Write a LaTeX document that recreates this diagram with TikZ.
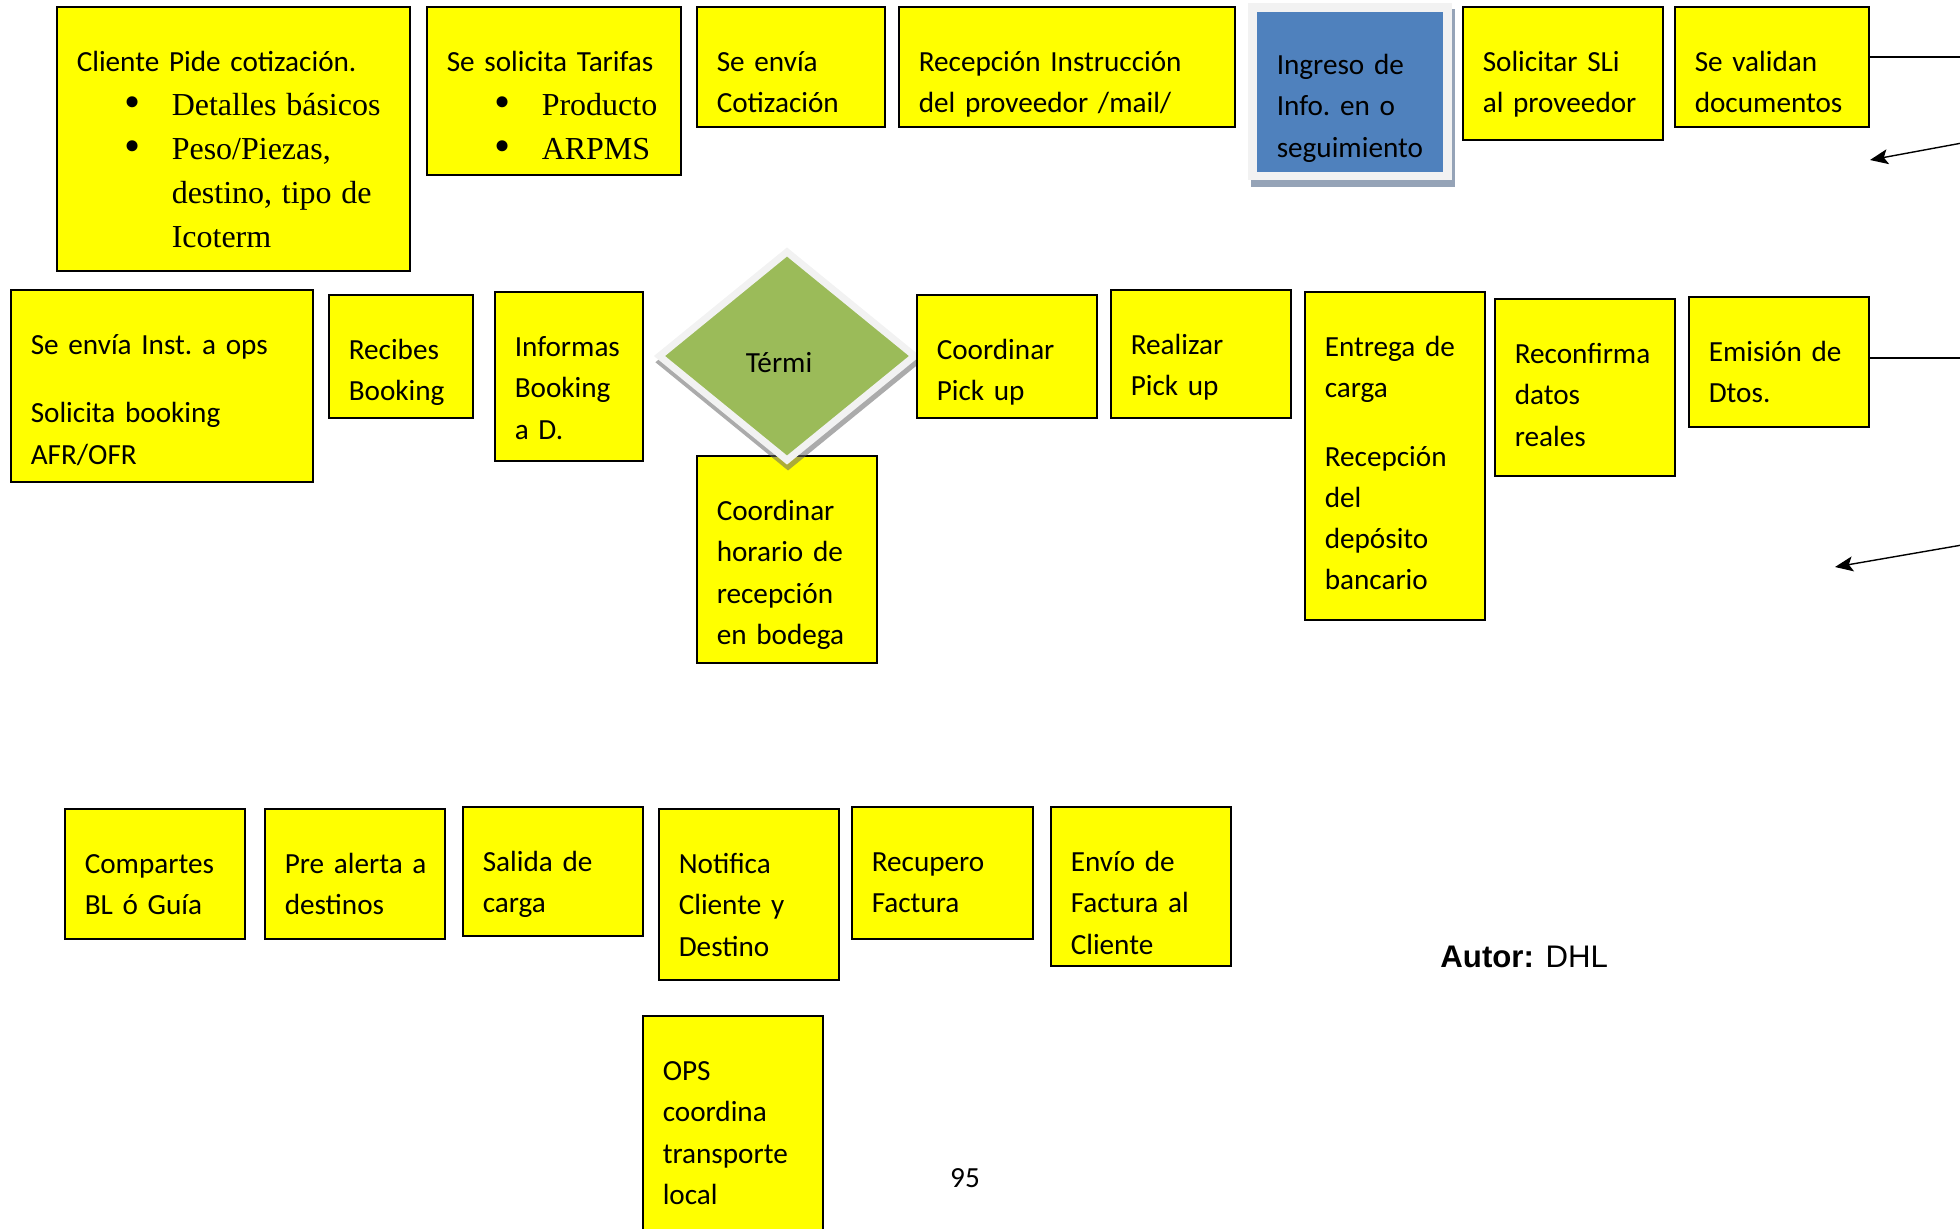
\documentclass[tikz,border=0pt]{standalone}
\usepackage{fontspec}
\setmainfont{Carlito}[WordSpace=0.75]
\newfontfamily\bulletfont{Liberation Serif}
\newfontfamily\arialfont{Liberation Sans}
\usetikzlibrary{arrows.meta,positioning,calc,backgrounds,shadows,shapes.geometric}
\definecolor{cardyellow}{HTML}{FFFF00}
\definecolor{infoblue}{HTML}{4F81BD}
\definecolor{termigreen}{HTML}{9BBB59}
\definecolor{framegray}{HTML}{F2F2F2}
\definecolor{shadowblue}{HTML}{95A3B7}
\newcommand{\bitem}[1]{{\bulletfont\fontsize{16pt}{22pt}\selectfont\makebox[47.5pt][l]{\hspace*{24pt}\raisebox{-0.8pt}{\fontsize{23pt}{22pt}\selectfont\textbullet}}#1}}
\newcommand{\bcont}[1]{{\bulletfont\fontsize{16pt}{22pt}\selectfont\hspace*{47.5pt}#1}}
\tikzset{
  card/.style={
    rectangle,
    draw=black,
    fill=cardyellow,
    line width=0.75pt,
    anchor=north west,
    align=left,
    inner xsep=10pt,
    inner ysep=0pt,
    text height=32.5pt,
    font=\fontsize{14.6pt}{20.6pt}\selectfont\frenchspacing
  },
  listcard/.style={
    card,
    font=\fontsize{14.6pt}{22pt}\selectfont\frenchspacing
  },
  infocard/.style={
    card,
    draw=none,
    fill=infoblue,
    text height=31.5pt
  },
  decision/.style={
    diamond,
    fill=termigreen,
    draw=framegray,
    line width=3.5pt,
    minimum width=129pt,
    minimum height=105.5pt,
    inner sep=0pt,
    drop shadow={shadow xshift=0.5pt, shadow yshift=-3pt, shadow scale=1.04, fill=black!60, opacity=0.55},
    font=\fontsize{14.6pt}{17pt}\selectfont
  },
  link/.style={line width=0.7pt, draw=black},
  pointer/.style={-{Stealth[length=9pt,width=7.5pt,inset=2pt]}, line width=0.7pt, draw=black}
}
\begin{document}
\begin{tikzpicture}[x=0.5pt,y=-0.5pt]
  \useasboundingbox (0,0) rectangle (1960,1228);
  \clip (0,0) rectangle (1960,1228);

  % top row
  \node[listcard, text width=156.5pt, text depth=99.5pt] (cliente) at (56,6)
    {Cliente Pide cotización.\\
     \bitem{Detalles básicos}\\
     \bitem{Peso/Piezas,}\\
     \bcont{destino, tipo de}\\
     \bcont{Icoterm}};
  \node[listcard, text width=107pt, text depth=51.5pt] (tarifas) at (426,6)
    {Se solicita Tarifas\\
     \bitem{Producto}\\
     \bitem{ARPMS}};
  \node[card, text width=74pt, text depth=27.5pt] (cotiz) at (696,6) {Se envía\\Cotización};
  \node[card, text width=148pt, text depth=27.5pt] (recep) at (898,6) {Recepción Instrucción\\del proveedor /mail/};
  \node[infocard, text width=73pt, text depth=48.5pt] (ingreso) at (1256,11) {Ingreso de\\Info. en o\\seguimiento};
  \node[card, text width=80pt, text depth=34pt] (sli) at (1462,6) {Solicitar SLi\\al proveedor};
  \node[card, text width=77pt, text depth=27.5pt] (validan) at (1674,6) {Se validan\\documentos};

  \begin{scope}[on background layer]
    \fill[shadowblue] ([shift={(-5,-2)}]ingreso.north west) rectangle ([shift={(11,14)}]ingreso.south east);
    \fill[framegray] ([shift={(-8,-8)}]ingreso.north west) rectangle ([shift={(8,7)}]ingreso.south east);
  \end{scope}

  % middle row
  \node[card, text width=131pt, text depth=63.5pt] (inst) at (10,289) {Se envía Inst. a ops\\[13.5pt]Solicita booking\\AFR/OFR};
  \node[card, text width=52pt, text depth=29pt] (recibes) at (328,294) {Recibes\\Booking};
  \node[card, text width=54pt, text depth=52pt] (informas) at (494,291) {Informas\\Booking\\a D.};
  \node[card, text width=70pt, text depth=71pt] (horario) at (696,455) {Coordinar\\horario de\\recepción\\en bodega};
  \node[decision] (termi) at (787,356) {\raisebox{-3.5pt}[\height][\depth]{\hspace*{-8pt}Térmi}};
  \node[card, text width=70pt, text depth=29pt] (pickc) at (916,294) {Coordinar\\Pick up};
  \node[card, text width=70pt, text depth=31.5pt] (pickr) at (1110,289) {Realizar\\Pick up};
  \node[card, text width=70pt, text depth=131.5pt] (entrega) at (1304,291) {Entrega de\\carga\\[13.5pt]Recepción\\del\\depósito\\bancario};
  \node[card, text width=70pt, text depth=56pt] (reconf) at (1494,298) {Reconfirma\\datos\\reales};
  \node[card, text width=70pt, text depth=32.5pt] (emision) at (1688,296) {Emisión de\\Dtos.};

  % bottom row
  \node[card, text width=70pt, text depth=32.5pt] (compartes) at (64,808) {Compartes\\BL ó Guía};
  \node[card, text width=70pt, text depth=32.5pt] (prealerta) at (264,808) {\mbox{Pre alerta a}\\destinos};
  \node[card, text width=70pt, text depth=32pt] (salida) at (462,806) {Salida de\\carga};
  \node[card, text width=70pt, text depth=53pt] (notifica) at (658,808) {Notifica\\Cliente y\\Destino};
  \node[card, text width=70.5pt, text depth=33.5pt] (recupero) at (851,806) {Recupero\\Factura};
  \node[card, text width=70pt, text depth=47pt] (enviofact) at (1050,806) {Envío de\\Factura al\\Cliente};
  \node[card, text width=70pt, text depth=87.5pt] (ops) at (642,1015) {OPS\\coordina\\transporte\\local};

  \node[font=\fontsize{14.6pt}{17pt}\selectfont] (pagenum) at (965,1178) {95};
  \node[anchor=base west, inner sep=0pt, font=\arialfont\fontsize{15.6pt}{18pt}\selectfont] (autor) at (1440,967) {\textbf{Autor:} DHL};

  % lines leaving the page on the right
  \coordinate (validanout) at (1962,57);
  \coordinate (emisionout) at (1962,358);
  \coordinate (backtopstart) at (1962,143);
  \coordinate (backtopend) at (1870,160);
  \coordinate (backmidstart) at (1962,545);
  \coordinate (backmidend) at (1835,567);

  \draw[link] (validan.east |- validanout) -- (validanout);
  \draw[link] (emision.east |- emisionout) -- (emisionout);
  \draw[pointer] (backtopstart) -- (backtopend);
  \draw[pointer] (backmidstart) -- (backmidend);
\end{tikzpicture}
\end{document}
